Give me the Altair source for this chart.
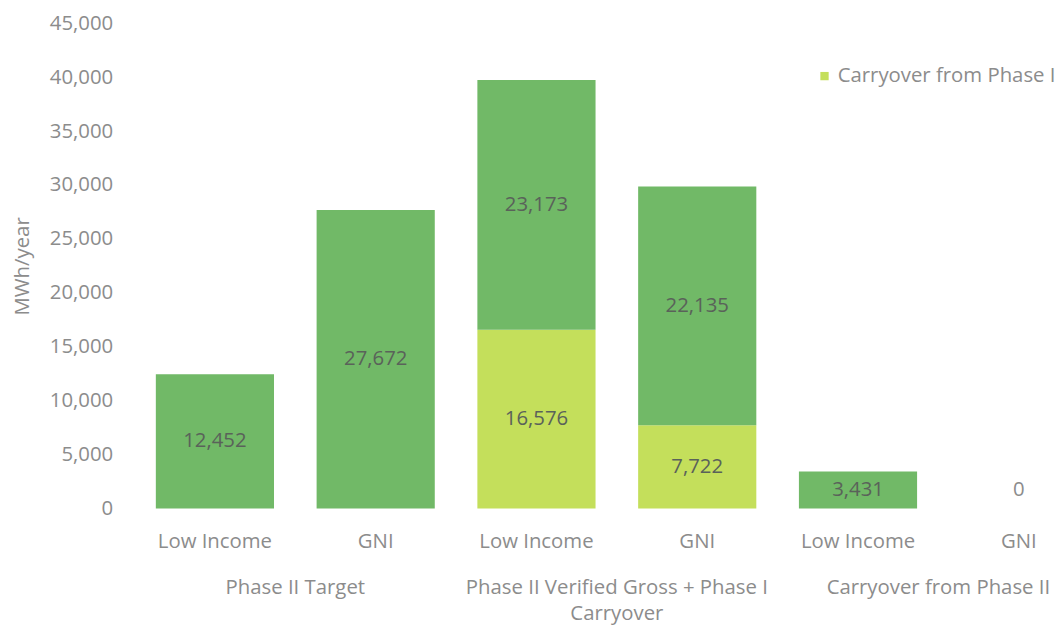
import altair as alt
import pandas as pd

# ---- data ----
positions = [0, 1, 2, 3, 4, 5]
sub_labels = ["Low Income", "GNI", "Low Income", "GNI", "Low Income", "GNI"]
group_names = ["Phase II Target", "Phase II Verified Gross + Phase I\nCarryover", "Carryover from Phase II"]
group_first_pos = [0, 2, 4]
phase2_values = [12452, 27672, 23173, 22135, 3431, 0]
carry_values = [0, 0, 16576, 7722, 0, 0]
series_names = ["Carryover from Phase I", "Phase II"]
y_ticks = [0, 5000, 10000, 15000, 20000, 25000, 30000, 35000, 40000, 45000]

DARK = "#71b967"
LIGHT = "#c4df5b"
FONT = "Open Sans"
FS = 20.5
TEXT_GRAY = "#8c8c8c"
VAL_GRAY = "#5a625a"

rows = []
for p, c, v in zip(positions, carry_values, phase2_values):
    if c > 0:
        rows.append({"pos": p, "series": series_names[0], "value": c, "ord": 0})
    rows.append({"pos": p, "series": series_names[1], "value": v, "ord": 1})
df = pd.DataFrame(rows)

groups_df = pd.DataFrame({"pos": group_first_pos, "label": group_names})

label_expr = "[" + ",".join("'" + s + "'" for s in sub_labels) + "][datum.value]"

xscale = alt.Scale(domain=positions, range=[0, 972], paddingInner=0.265, paddingOuter=0.1325)
x_axis = alt.Axis(
    labelExpr=label_expr, labelAngle=0, labelFontSize=FS, labelColor=TEXT_GRAY,
    labelFont=FONT, ticks=False, domain=False, labelPadding=23,
)
yscale = alt.Scale(domain=[0, 45000], nice=False)
y_axis = alt.Axis(
    values=y_ticks, labelExpr="format(datum.value, ',')", grid=False, domain=False,
    ticks=False, labelFontSize=FS, labelColor=TEXT_GRAY, labelFont=FONT,
    labelPadding=22, titleFontSize=FS, titleColor=TEXT_GRAY, titleFont=FONT,
    titleFontWeight="normal", titlePadding=17,
)


def xe():
    return alt.X("pos:O", scale=xscale, title=None, axis=x_axis)


def ye(field):
    return alt.Y(field, scale=yscale, title="MWh/year", axis=y_axis)


bars = alt.Chart(df).mark_bar().encode(
    x=xe(),
    y=alt.Y("value:Q", stack="zero", scale=yscale, title="MWh/year", axis=y_axis),
    color=alt.Color(
        "series:N",
        scale=alt.Scale(domain=series_names, range=[LIGHT, DARK]),
        legend=alt.Legend(
            values=[series_names[0]], orient="none", legendX=685, legendY=43,
            title=None, symbolType="square", symbolSize=70, symbolStrokeWidth=0,
            labelFontSize=FS, labelColor=TEXT_GRAY, labelFont=FONT, labelOffset=3,
            labelLimit=0,
        ),
    ),
    order=alt.Order("ord:Q", sort="ascending"),
)

base_labels = alt.Chart(df).transform_stack(
    stack="value", groupby=["pos"], as_=["v0", "v1"], sort=[alt.SortField("ord", order="ascending")]
).transform_calculate(mid="(datum.v0 + datum.v1) / 2")

labels = base_labels.transform_filter("datum.value > 0").mark_text(
    fontSize=FS, font=FONT, color=VAL_GRAY
).encode(
    x=xe(),
    y=ye("mid:Q"),
    text=alt.Text("value:Q", format=","),
)

zero_labels = base_labels.transform_filter("datum.value == 0").mark_text(
    fontSize=FS, font=FONT, color=TEXT_GRAY, dy=-19
).encode(
    x=xe(),
    y=ye("mid:Q"),
    text=alt.Text("value:Q", format=","),
)

group_text = alt.Chart(groups_df).mark_text(
    fontSize=FS, font=FONT, color=TEXT_GRAY, dx=81, baseline="middle", lineBreak="\n", lineHeight=26
).encode(
    x=xe(),
    y=alt.value(569),
    text="label:N",
)

chart = alt.layer(bars, labels, zero_labels, group_text).properties(
    width=927.5,
    height=489,
    autosize=alt.AutoSizeParams(type="none"),
    padding={"left": 127.5, "top": 13, "right": 0, "bottom": 118},
).configure_view(stroke=None)

chart.save("out.html", embed_options={"renderer": "svg", "actions": False})
